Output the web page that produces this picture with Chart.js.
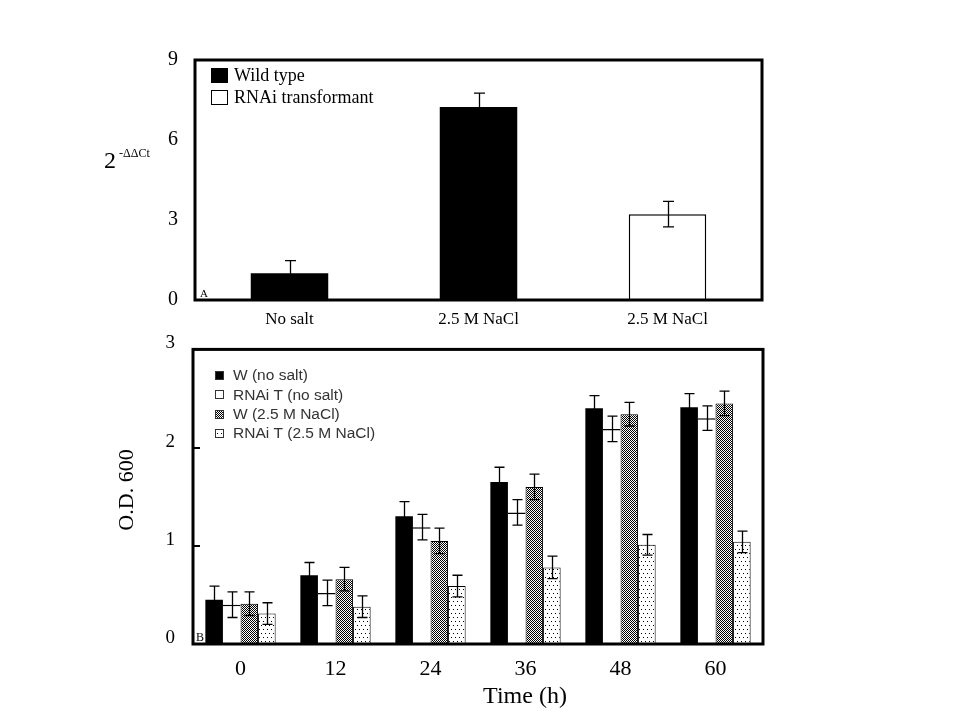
<!DOCTYPE html>
<html>
<head>
<meta charset="utf-8">
<script src="https://cdn.jsdelivr.net/npm/chart.js@4.4.0/dist/chart.umd.min.js"></script>
<style>
body { margin: 0; background: #fff; }
#wrap { position: relative; width: 960px; height: 720px; background: #fff; }
canvas { position: absolute; left: 0; }
#chartA { top: 0; }
#chartB { top: 320px; }
</style>
</head>
<body>
<div id="wrap">
<canvas id="chartA" width="960" height="345"></canvas>
<canvas id="chartB" width="960" height="400"></canvas>
</div>
<script>
// panel A : relative expression
var qpcrLabels = ['No salt', '2.5 M NaCl', '2.5 M NaCl'];
var wildType = [1.0, 7.24, null];
var wildTypeErr = [0.48, 0.52, null];
var rnaiType = [null, null, 3.22];
var rnaiTypeErr = [null, null, 0.48];
var qpcrTicks = [0, 3, 6, 9];

// panel B : growth curve
var hours = ['0', '12', '24', '36', '48', '60'];
var wNoSalt = [0.45, 0.70, 1.30, 1.65, 2.40, 2.41];
var wNoSaltErr = [0.14, 0.13, 0.15, 0.15, 0.13, 0.14];
var rnaiNoSalt = [0.40, 0.52, 1.19, 1.34, 2.19, 2.30];
var rnaiNoSaltErr = [0.13, 0.13, 0.13, 0.13, 0.13, 0.125];
var wSalt = [0.41, 0.66, 1.05, 1.60, 2.34, 2.45];
var wSaltErr = [0.12, 0.12, 0.13, 0.13, 0.12, 0.125];
var rnaiSalt = [0.31, 0.38, 0.59, 0.78, 1.01, 1.04];
var rnaiSaltErr = [0.11, 0.11, 0.11, 0.115, 0.105, 0.11];
var odTicks = [0, 1, 2, 3];

var serif = "'Liberation Serif', 'Times New Roman', serif";
var sans = "'Liberation Sans', Arial, sans-serif";

function makePattern(w, h, dots) {
	var c = document.createElement('canvas');
	c.width = w;
	c.height = h;
	var g = c.getContext('2d');
	g.fillStyle = '#fff';
	g.fillRect(0, 0, w, h);
	g.fillStyle = '#000';
	dots.forEach(function (d) { g.fillRect(d[0], d[1], 1, 1); });
	return g.createPattern(c, 'repeat');
}
var checker = makePattern(2, 2, [[0, 0], [1, 1]]);
var dotted = makePattern(4, 8, [[1, 1], [3, 5]]);

var errorBars = {
	id: 'errorBars',
	afterDatasetsDraw: function (chart, args, opts) {
		var ctx = chart.ctx;
		var y = chart.scales.y;
		ctx.save();
		ctx.strokeStyle = '#000';
		ctx.lineWidth = opts.width;
		chart.data.datasets.forEach(function (ds, i) {
			if (!ds.errors) return;
			var meta = chart.getDatasetMeta(i);
			meta.data.forEach(function (bar, j) {
				var v = ds.data[j], e = ds.errors[j];
				if (v == null || e == null) return;
				var top = y.getPixelForValue(v + e);
				var bot = y.getPixelForValue(v - e);
				var half = opts.cap / 2;
				var x = Math.round(bar.x) + 0.5;
				ctx.beginPath();
				ctx.moveTo(x, top); ctx.lineTo(x, bot);
				ctx.moveTo(x - half, top); ctx.lineTo(x + half, top);
				ctx.moveTo(x - half, bot); ctx.lineTo(x + half, bot);
				ctx.stroke();
			});
		});
		ctx.restore();
	}
};

var frame = {
	id: 'frame',
	afterDraw: function (chart) {
		var a = chart.chartArea;
		var ctx = chart.ctx;
		ctx.save();
		ctx.strokeStyle = '#000';
		ctx.lineWidth = 3;
		ctx.strokeRect(a.left, a.top, a.right - a.left, a.bottom - a.top);
		ctx.restore();
	}
};

function fixSize(w, h) {
	return function (scale) {
		if (w) scale.width = w;
		if (h) scale.height = h;
	};
}

// ---------- panel A ----------
var extrasA = {
	id: 'extrasA',
	afterDraw: function (chart) {
		var ctx = chart.ctx;
		var a = chart.chartArea;
		ctx.save();
		ctx.fillStyle = '#000';
		ctx.textBaseline = 'alphabetic';
		// y title 2^-ΔΔCt
		ctx.font = '24px ' + serif;
		ctx.fillText('2', 104, 168);
		ctx.font = '12px ' + serif;
		ctx.fillText('-ΔΔCt', 119, 157);
		// panel letter
		ctx.font = '11px ' + serif;
		ctx.fillText('A', a.left + 5, a.bottom - 3);
		// legend
		ctx.font = '18px ' + serif;
		chart.data.datasets.forEach(function (ds, i) {
			var top = 68 + i * 22;
			ctx.fillStyle = ds.backgroundColor;
			ctx.fillRect(211, top, 17, 15);
			ctx.strokeStyle = '#000';
			ctx.lineWidth = 1;
			ctx.strokeRect(211.5, top + 0.5, 16, 14);
			ctx.fillStyle = '#000';
			ctx.fillText(ds.label, 234, top + 13);
		});
		ctx.restore();
	}
};

new Chart(document.getElementById('chartA'), {
	type: 'bar',
	data: {
		labels: qpcrLabels,
		datasets: [{
			label: 'Wild type',
			data: wildType,
			errors: wildTypeErr,
			backgroundColor: '#000',
			borderWidth: 0
		}, {
			label: 'RNAi transformant',
			data: rnaiType,
			errors: rnaiTypeErr,
			backgroundColor: '#fff',
			borderColor: '#000',
			borderWidth: 1.5
		}]
	},
	options: {
		responsive: false,
		animation: false,
		skipNull: true,
		categoryPercentage: 0.41,
		barPercentage: 1,
		layout: { padding: { top: 60, right: 198, left: 0, bottom: 0 } },
		plugins: {
			legend: { display: false },
			tooltip: { enabled: false },
			errorBars: { cap: 11, width: 1.3 }
		},
		scales: {
			x: {
				grid: { display: false, drawTicks: false },
				border: { display: false },
				ticks: { color: '#000', padding: 9, font: { family: serif, size: 17 } },
				afterFit: fixSize(0, 45)
			},
			y: {
				min: 0,
				max: 9,
				grid: { display: false, drawTicks: false },
				border: { display: false },
				afterBuildTicks: function (s) { s.ticks = qpcrTicks.map(function (v) { return { value: v }; }); },
				ticks: { color: '#000', padding: 17, font: { family: serif, size: 20 } },
				afterFit: fixSize(195, 0)
			}
		}
	},
	plugins: [errorBars, frame, extrasA]
});

// ---------- panel B ----------
var extrasB = {
	id: 'extrasB',
	afterDraw: function (chart) {
		var ctx = chart.ctx;
		var a = chart.chartArea;
		var y = chart.scales.y;
		ctx.save();
		// small inner ticks
		ctx.strokeStyle = '#000';
		ctx.lineWidth = 2;
		[1, 2].forEach(function (v) {
			var py = Math.round(y.getPixelForValue(v));
			ctx.beginPath();
			ctx.moveTo(a.left, py);
			ctx.lineTo(a.left + 7, py);
			ctx.stroke();
		});
		ctx.fillStyle = '#000';
		// panel letter
		ctx.font = '12px ' + serif;
		ctx.textBaseline = 'alphabetic';
		ctx.fillText('B', a.left + 3, a.bottom - 3);
		// axis titles
		ctx.textAlign = 'center';
		ctx.textBaseline = 'middle';
		ctx.font = '24px ' + serif;
		ctx.fillText('Time (h)', 525, 697 - 320);
		ctx.save();
		ctx.translate(127, 490 - 320);
		ctx.rotate(-Math.PI / 2);
		ctx.font = '22px ' + serif;
		ctx.fillText('O.D. 600', 0, 0);
		ctx.restore();
		// legend
		ctx.textAlign = 'left';
		ctx.textBaseline = 'middle';
		ctx.font = '15.5px ' + sans;
		chart.data.datasets.forEach(function (ds, i) {
			var cy = 375 - 320 + i * 19.3;
			ctx.fillStyle = ds.backgroundColor;
			ctx.fillRect(215, Math.round(cy) - 4, 9, 9);
			ctx.strokeStyle = '#333';
			ctx.lineWidth = 1;
			ctx.strokeRect(215.5, Math.round(cy) - 3.5, 8, 8);
			ctx.fillStyle = '#333';
			ctx.fillText(ds.label, 233, cy + 1);
		});
		ctx.restore();
	}
};

new Chart(document.getElementById('chartB'), {
	type: 'bar',
	data: {
		labels: hours,
		datasets: [{
			label: 'W (no salt)',
			data: wNoSalt,
			errors: wNoSaltErr,
			backgroundColor: '#000',
			borderWidth: 0
		}, {
			label: 'RNAi T (no salt)',
			data: rnaiNoSalt,
			errors: rnaiNoSaltErr,
			backgroundColor: '#fff',
			borderColor: '#000',
			borderWidth: { top: 1.5, left: 0, right: 0, bottom: 0 }
		}, {
			label: 'W (2.5 M NaCl)',
			data: wSalt,
			errors: wSaltErr,
			backgroundColor: checker,
			borderColor: '#000',
			borderWidth: 1
		}, {
			label: 'RNAi T (2.5 M NaCl)',
			data: rnaiSalt,
			errors: rnaiSaltErr,
			backgroundColor: dotted,
			borderColor: '#000',
			borderWidth: 1
		}]
	},
	options: {
		responsive: false,
		animation: false,
		categoryPercentage: 0.74,
		barPercentage: 1,
		layout: { padding: { top: 25, right: 197, left: 0, bottom: 0 } },
		plugins: {
			legend: { display: false },
			tooltip: { enabled: false },
			errorBars: { cap: 10, width: 1.3 }
		},
		scales: {
			x: {
				grid: { display: false, drawTicks: false },
				border: { display: false },
				ticks: { color: '#000', padding: 12, font: { family: serif, size: 22 } },
				afterFit: fixSize(0, 76)
			},
			y: {
				min: 0,
				max: 3,
				grid: { display: false, drawTicks: false },
				border: { display: false },
				afterBuildTicks: function (s) { s.ticks = odTicks.map(function (v) { return { value: v }; }); },
				ticks: { color: '#000', padding: 18, labelOffset: -6, font: { family: serif, size: 19 } },
				afterFit: fixSize(193, 0)
			}
		}
	},
	plugins: [errorBars, frame, extrasB]
});
</script>
</body>
</html>
